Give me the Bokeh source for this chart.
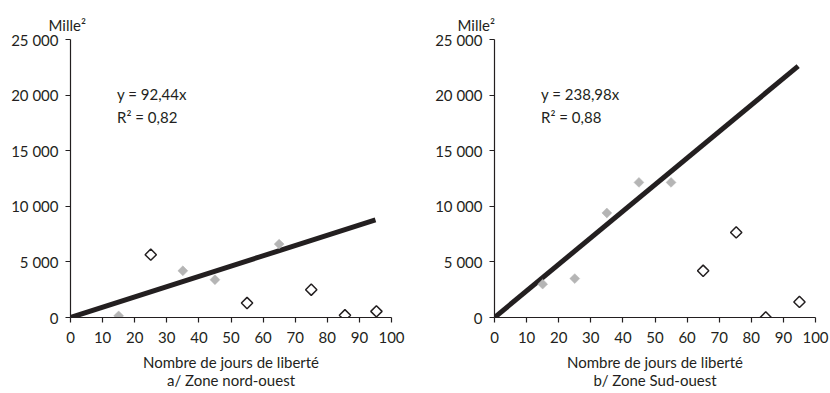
from bokeh.plotting import figure
from bokeh.layouts import row
from bokeh.models import FixedTicker, Label, Range1d, Title
from bokeh.embed import file_html
from bokeh.resources import INLINE
import math

# ---- data ----
x_ticks = [0, 10, 20, 30, 40, 50, 60, 70, 80, 90, 100]
y_ticks = [0, 5000, 10000, 15000, 20000, 25000]
y_tick_labels = ["0", "5 000", "10 000", "15 000", "20 000", "25 000"]

# a/ Zone nord-ouest
a_fit_x = [15, 35, 45, 65]
a_fit_y = [150, 4200, 3400, 6600]
a_out_x = [25, 55, 75, 85.5, 95.3]
a_out_y = [5650, 1300, 2500, 200, 550]
a_slope = 92.44
a_line_x = [0, 95]
a_eq = "y = 92,44x"
a_r2 = "R² = 0,82"
a_title = "a/ Zone nord-ouest"

# b/ Zone Sud-ouest
b_fit_x = [15, 25, 35, 45, 55]
b_fit_y = [3000, 3500, 9400, 12150, 12150]
b_out_x = [65, 75.3, 84.5, 95]
b_out_y = [4200, 7650, 0, 1400]
b_slope = 238.98
b_line_x = [0, 94.6]
b_eq = "y = 238,98x"
b_r2 = "R² = 0,88"
b_title = "b/ Zone Sud-ouest"

x_label = "Nombre de jours de liberté"
y_unit = "Mille²"

FONT = "Lato"
INK = "#231f20"
FS = "15px"


def make_panel(fx, fy, ox, oy, slope, lx, eq, r2, title, bl, br, bb, unit_off):
    p = figure(width=415, height=393, output_backend="svg", toolbar_location=None,
               x_range=Range1d(0, 100), y_range=Range1d(0, 25000),
               min_border_left=bl, min_border_right=br, min_border_top=39,
               min_border_bottom=bb)
    p.outline_line_color = None
    p.xgrid.visible = False
    p.ygrid.visible = False

    for ax in (p.xaxis[0], p.yaxis[0]):
        ax.axis_line_color = INK
        ax.axis_line_width = 1.2
        ax.major_tick_line_color = INK
        ax.major_tick_line_width = 1.2
        ax.major_tick_in = 0
        ax.major_tick_out = 5
        ax.minor_tick_line_color = None
        ax.major_label_text_font = FONT
        ax.major_label_text_font_size = FS
        ax.major_label_text_color = INK
    p.xaxis.ticker = FixedTicker(ticks=x_ticks)
    p.yaxis.ticker = FixedTicker(ticks=y_ticks)
    p.yaxis.major_label_overrides = {t: l for t, l in zip(y_ticks, y_tick_labels)}
    p.xaxis.major_label_standoff = 9
    p.yaxis.major_label_standoff = 7

    p.xaxis.axis_label = x_label + "\n" + title
    p.xaxis.axis_label_text_font = FONT
    p.xaxis.axis_label_text_font_size = FS
    p.xaxis.axis_label_text_font_style = "normal"
    p.xaxis.axis_label_text_color = INK
    p.xaxis.axis_label_standoff = 7
    p.xaxis.axis_label_text_line_height = 1.0

    p.add_layout(Title(text=y_unit, align="left", offset=unit_off, text_font=FONT,
                       text_font_size="15px", text_font_style="normal", text_color=INK,
                       standoff=11), "above")

    ly = [slope * v for v in lx]
    p.line(lx, ly, line_color=INK, line_width=5)

    p.scatter(fx, fy, marker="square", angle=math.pi / 4, size=7,
              fill_color="#b5b5b5", line_color="#b5b5b5", line_width=0.5)
    p.scatter(ox, oy, marker="square", angle=math.pi / 4, size=8,
              fill_color="white", line_color=INK, line_width=1.5)

    p.add_layout(Label(x=14.5, y=20100, text=eq, text_font=FONT, text_font_size=FS,
                       text_color=INK, text_baseline="alphabetic"))
    p.add_layout(Label(x=14.5, y=18000, text=r2, text_font=FONT, text_font_size=FS,
                       text_color=INK, text_baseline="alphabetic"))
    return p


p1 = make_panel(a_fit_x, a_fit_y, a_out_x, a_out_y, a_slope, a_line_x, a_eq, a_r2, a_title,
                70, 24, 72, -22)
p2 = make_panel(b_fit_x, b_fit_y, b_out_x, b_out_y, b_slope, b_line_x, b_eq, b_r2, b_title,
                79, 15, 76, -37)

layout = row(p1, p2)
open("out.html", "w").write(file_html(layout, INLINE))
